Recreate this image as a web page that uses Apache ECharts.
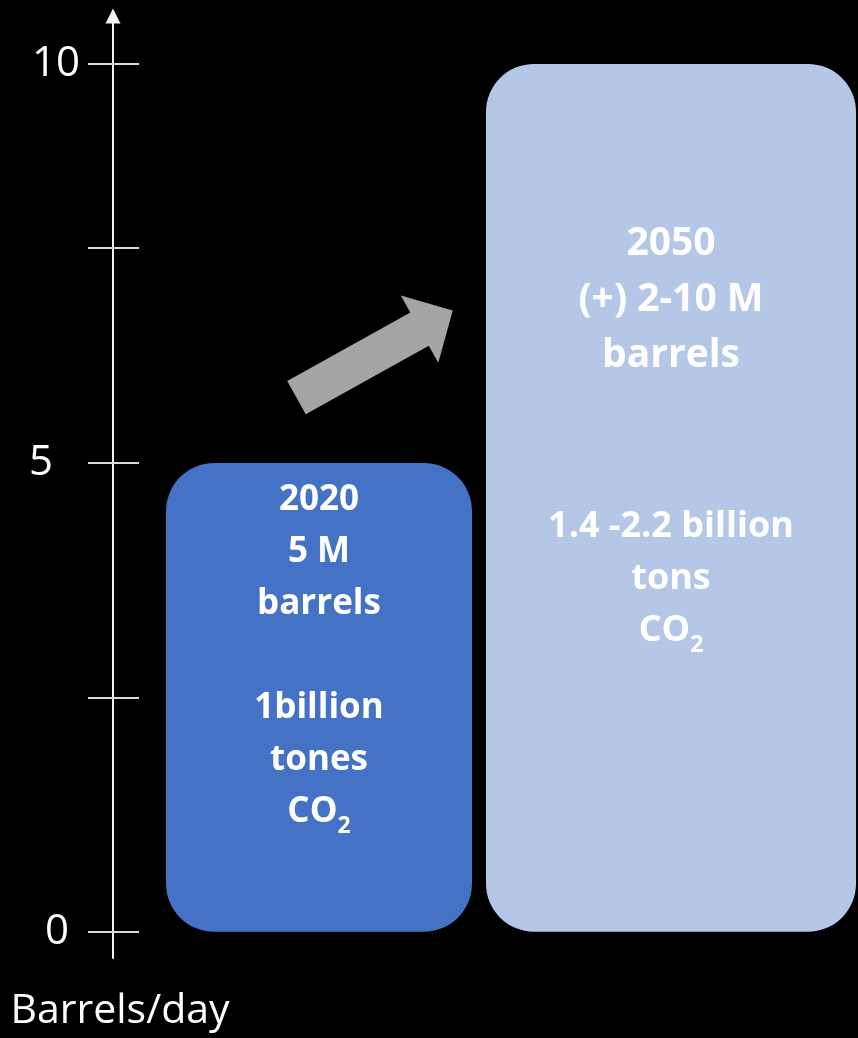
<!DOCTYPE html>
<html>
<head>
<meta charset="utf-8">
<style>html,body{margin:0;padding:0;background:#000;}#c{width:858px;height:1038px;}</style>
<script src="https://cdn.jsdelivr.net/npm/echarts@6/dist/echarts.min.js"></script>
</head>
<body>
<div id="c"></div>
<script>
// ---- data ----
const categories = ['2020', '2050'];
const barrelsPerDay = [5, 10];               // million barrels / day
const upperTicks = [7.7, 10];                // unlabelled + labelled ticks, upper band
const lowerTicks = [0, 2.5, 5];
const upperLabels = [10];
const lowerLabels = [0, 5];
const upperBandText = [null, '2050\n(+) 2-10 M\nbarrels'];
const lowerBandText = ['2020\n5 M\nbarrels\n\n1billion\ntones\nCO{s|2}', '1.4 -2.2 billion\ntons\nCO{s|2}'];
const axisName = 'Barrels/day';
// growth arrow: [fromX, fromY, toX, toY] in (category index, barrels) units
const growthArrow = [[-0.064, 5.82, 0.38, 6.91]];

// ---- styles ----
const FONT = 'Open Sans';
const WHITE = '#ffffff';
const AXIS_X_OFFSET = 30;
const BAR_WIDTHS = [306, 370];
const BAR_COLORS = ['#4472C4', '#B4C7E7'];
const BAR_RADIUS = 48;
const tickStyle = { color: '#d9d9d9', width: 2 };
const upperTextStyle = [null, { fontSize: 39, lineHeight: 56, distance: 152 }];
const lowerTextStyle = [{ fontSize: 35, lineHeight: 52, distance: 11 }, { fontSize: 36, lineHeight: 52, distance: 38 }];

const chart = echarts.init(document.getElementById('c'), null, { renderer: 'canvas' });

const barData = categories.map((c, i) => [i, barrelsPerDay[i]]);

const richSub = {
  s: { fontFamily: FONT, fontWeight: 'bold', fill: WHITE, fontSize: 23, lineHeight: 34, verticalAlign: 'bottom' }
};

function makeBarRenderer(texts, textStyles) {
  return function (params, api) {
    const i = api.value(0), v = api.value(1);
    const top = api.coord([i, v]);
    const base = api.coord([i, 0]);
    const cs = params.coordSys;
    const y0 = Math.max(top[1], cs.y);
    const y1 = Math.min(base[1], cs.y + cs.height);
    if (y1 - y0 < 1) return null;
    const clipTop = top[1] < cs.y - 0.5;
    const clipBottom = base[1] > cs.y + cs.height + 0.5;
    const rt = clipTop ? 0 : BAR_RADIUS, rb = clipBottom ? 0 : BAR_RADIUS;
    const w = BAR_WIDTHS[i];
    const el = {
      type: 'rect',
      shape: { x: Math.round(top[0] - w / 2), y: y0, width: w, height: y1 - y0, r: [rt, rt, rb, rb] },
      style: { fill: BAR_COLORS[i] }
    };
    if (texts[i]) {
      const ts = textStyles[i];
      el.textContent = {
        style: {
          text: texts[i], fill: WHITE, fontFamily: FONT, fontWeight: 'bold',
          fontSize: ts.fontSize, lineHeight: ts.lineHeight, align: 'center', rich: richSub
        }
      };
      el.textConfig = { position: 'insideTop', distance: ts.distance };
    }
    return el;
  };
}

const tickLabelRich = {
  r10: { fontFamily: FONT, fontSize: 42, color: WHITE, padding: [0, 0, 0, 0] },
  r5: { fontFamily: FONT, fontSize: 42, color: WHITE, padding: [0, 27, 0, 0] },
  r0: { fontFamily: FONT, fontSize: 42, color: WHITE, padding: [0, 11, 0, 0] }
};
function tickFmt(v) { return '{r' + v + '|' + v + '}'; }

const option = {
  backgroundColor: '#000000',
  animation: false,
  grid: [
    { left: 143, right: 11, top: 16, bottom: 1038 - 463, outerBoundsMode: 'none', containLabel: false },
    { left: 143, right: 11, top: 463, bottom: 1038 - 958, outerBoundsMode: 'none', containLabel: false }
  ],
  xAxis: [
    { gridIndex: 0, type: 'category', data: categories, show: false },
    { gridIndex: 0, type: 'value', min: -0.5, max: 1.5, show: false },
    { gridIndex: 1, type: 'category', data: categories, show: false }
  ],
  yAxis: [
    {
      gridIndex: 0, type: 'value', min: 5, max: 10.6, position: 'left', offset: AXIS_X_OFFSET,
      axisLine: { show: true, onZero: false, symbol: ['none', 'triangle'], symbolSize: [15, 15], lineStyle: { color: '#f2f2f2', width: 2 } },
      axisTick: { show: true, inside: false, length: 25, customValues: upperTicks, lineStyle: tickStyle },
      axisLabel: { show: true, margin: 33, customValues: upperLabels, formatter: tickFmt, rich: tickLabelRich },
      splitLine: { show: false }
    },
    {
      gridIndex: 0, type: 'value', min: 5, max: 10.6, position: 'left', offset: AXIS_X_OFFSET,
      axisLine: { show: false, onZero: false },
      axisTick: { show: true, inside: true, length: 26, customValues: upperTicks, lineStyle: tickStyle },
      axisLabel: { show: false },
      splitLine: { show: false }
    },
    {
      gridIndex: 1, type: 'value', min: -0.28, max: 5, position: 'left', offset: AXIS_X_OFFSET,
      axisLine: { show: true, onZero: false, lineStyle: { color: '#f2f2f2', width: 2 } },
      axisTick: { show: true, inside: false, length: 25, customValues: lowerTicks, lineStyle: tickStyle },
      axisLabel: { show: true, margin: 33, customValues: lowerLabels, showMaxLabel: true, showMinLabel: true, formatter: tickFmt, rich: tickLabelRich },
      splitLine: { show: false },
      name: axisName, nameLocation: 'start', nameGap: 33,
      nameTextStyle: { fontFamily: FONT, fontSize: 41, color: WHITE, lineHeight: 41, align: 'center', padding: [0, 0, 0, 14] }
    },
    {
      gridIndex: 1, type: 'value', min: -0.28, max: 5, position: 'left', offset: AXIS_X_OFFSET,
      axisLine: { show: false, onZero: false },
      axisTick: { show: true, inside: true, length: 26, customValues: lowerTicks, lineStyle: tickStyle },
      axisLabel: { show: false },
      splitLine: { show: false }
    }
  ],
  series: [
    {
      name: 'Barrels/day (upper band)', type: 'custom', xAxisIndex: 0, yAxisIndex: 0,
      data: barData, encode: { x: 0, y: 1 },
      renderItem: makeBarRenderer(upperBandText, upperTextStyle)
    },
    {
      name: 'growth', type: 'custom', xAxisIndex: 1, yAxisIndex: 0,
      data: growthArrow, encode: { x: [0, 2], y: [1, 3] },
      renderItem: function (params, api) {
        const p0 = api.coord([api.value(0), api.value(1)]);
        const p1 = api.coord([api.value(2), api.value(3)]);
        const dx = p1[0] - p0[0], dy = p1[1] - p0[1];
        const len = Math.sqrt(dx * dx + dy * dy);
        const ux = dx / len, uy = dy / len;
        const nx = -uy, ny = ux;
        const sw = 19, hw = 38.5, hl = 38;
        const bx = p1[0] - ux * hl, by = p1[1] - uy * hl;
        const pts = [
          [p0[0] + nx * sw, p0[1] + ny * sw],
          [bx + nx * sw, by + ny * sw],
          [bx + nx * hw, by + ny * hw],
          [p1[0], p1[1]],
          [bx - nx * hw, by - ny * hw],
          [bx - nx * sw, by - ny * sw],
          [p0[0] - nx * sw, p0[1] - ny * sw]
        ];
        return { type: 'polygon', shape: { points: pts }, style: { fill: '#A5A5A5' } };
      }
    },
    {
      name: 'Barrels/day (lower band)', type: 'custom', xAxisIndex: 2, yAxisIndex: 2,
      data: barData, encode: { x: 0, y: 1 },
      renderItem: makeBarRenderer(lowerBandText, lowerTextStyle)
    }
  ]
};
chart.setOption(option);
</script>
</body>
</html>
